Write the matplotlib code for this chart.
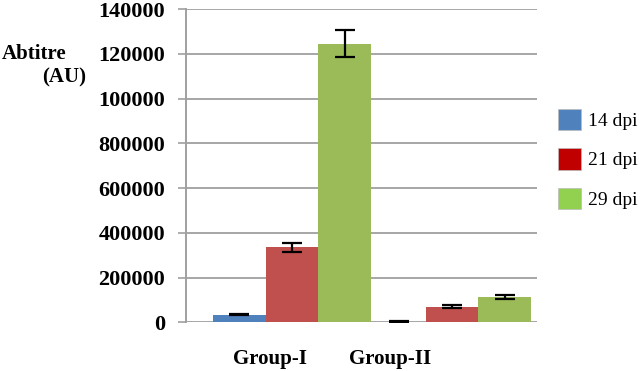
import matplotlib
matplotlib.use("Agg")
import matplotlib.pyplot as plt
from matplotlib.patches import Patch
import numpy as np

# --- datos ---
grupos = ["Group-I", "Group-II"]
series = ["14 dpi", "21 dpi", "29 dpi"]
valores = {
    "14 dpi": [33000, 3000],
    "21 dpi": [336000, 70000],
    "29 dpi": [1245000, 112000],
}
errores = {
    "14 dpi": [2000, 1000],
    "21 dpi": [20000, 8000],
    "29 dpi": [60000, 8000],
}
yticks = [0, 200000, 400000, 600000, 800000, 1000000, 1200000, 1400000]
ytick_labels = ["0", "200000", "400000", "600000", "800000",
                "100000", "120000", "140000"]

colores_barra = ["#4F81BD", "#C0504D", "#9BBB59"]
colores_leyenda = ["#4F81BD", "#C00000", "#92D050"]

plt.rcParams["font.family"] = ["Liberation Serif", "DejaVu Serif"]

fig = plt.figure(figsize=(6.4, 3.71), dpi=100)
ax = fig.add_axes([0.2906, 0.1313, 0.5484, 0.8444])

x = np.arange(len(grupos))
ancho = 0.33
for i, s in enumerate(series):
    ax.bar(x + (i - 1) * ancho, valores[s], ancho, color=colores_barra[i],
           zorder=3)
    ax.errorbar(x + (i - 1) * ancho, valores[s], yerr=errores[s], fmt="none",
                ecolor="black", elinewidth=1.6, capsize=7, capthick=1.6,
                zorder=4)

ax.set_xlim(-0.6625, 1.531)
ax.set_ylim(0, 1400000)
ax.set_yticks(yticks)
ax.set_yticklabels(ytick_labels, fontsize=16, fontweight="bold")
ax.yaxis.grid(True, color="#A6A6A6", linewidth=1.4, zorder=0)

ax.set_xticks([-0.1375, 0.6125])
ax.set_xticklabels(grupos, fontsize=15, fontweight="bold")
ax.tick_params(axis="x", length=0, pad=19)
ax.tick_params(axis="y", length=6, width=1.2, color="#A0A0A0", pad=9)

for lado in ["top", "right", "bottom"]:
    ax.spines[lado].set_visible(False)
ax.spines["left"].set_color("#A0A0A0")
ax.spines["left"].set_linewidth(1.4)

fig.text(0.003, 0.855, "Abtitre", fontsize=15, fontweight="bold",
         ha="left", va="center")
fig.text(0.066, 0.79, "(AU)", fontsize=15, fontweight="bold",
         ha="left", va="center")

handles = [Patch(facecolor=c, edgecolor="#BBBBBB", linewidth=0.5)
           for c in colores_leyenda]
fig.legend(handles, series, loc="upper left", bbox_to_anchor=(0.86, 0.728),
           frameon=False, fontsize=14, handlelength=1.15, handleheight=1.3,
           labelspacing=0.95, handletextpad=0.4, borderaxespad=0)

fig.savefig("out.png", dpi=100)
